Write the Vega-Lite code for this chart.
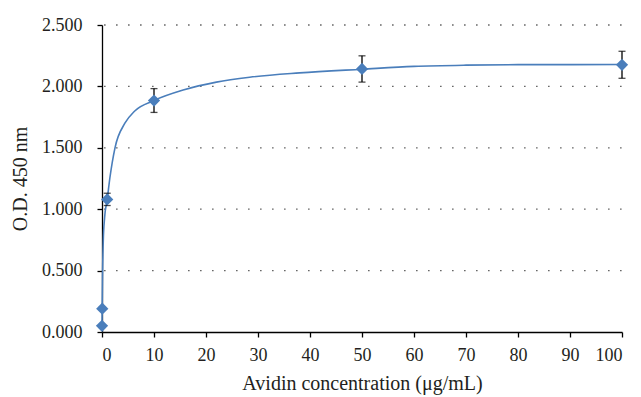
{
  "$schema": "https://vega.github.io/schema/vega-lite/v6.json",
  "autosize": "none",
  "width": 520,
  "height": 307,
  "padding": {"left": 102, "top": 25, "right": 19, "bottom": 65},
  "background": "white",
  "config": {
    "view": {"stroke": null},
    "font": "Liberation Serif",
    "axis": {
      "labelFont": "Liberation Serif",
      "titleFont": "Liberation Serif",
      "labelFontSize": 18,
      "titleFontSize": 20,
      "titleFontWeight": "normal",
      "labelColor": "#231f20",
      "titleColor": "#231f20",
      "domainColor": "#000000",
      "domainWidth": 1.3,
      "tickColor": "#000000",
      "tickWidth": 1.3,
      "tickSize": 5
    }
  },
  "datasets": {
    "points": [
      {"conc": 0, "od": 0.05, "err": 0.01},
      {"conc": 0.05, "od": 0.19, "err": 0.01},
      {"conc": 1, "od": 1.08, "err": 0.05},
      {"conc": 10, "od": 1.885, "err": 0.097},
      {"conc": 50, "od": 2.142, "err": 0.107},
      {"conc": 100, "od": 2.176, "err": 0.11}
    ],
    "curve": [
      {"conc": 0, "od": 0.05},
      {"conc": 0.1, "od": 0.45},
      {"conc": 0.25, "od": 0.75},
      {"conc": 0.5, "od": 0.93},
      {"conc": 1, "od": 1.08},
      {"conc": 1.5, "od": 1.25},
      {"conc": 2.5, "od": 1.5},
      {"conc": 4.4, "od": 1.7},
      {"conc": 6.3, "od": 1.8},
      {"conc": 10, "od": 1.885},
      {"conc": 15.6, "od": 1.97},
      {"conc": 22, "od": 2.035},
      {"conc": 28.4, "od": 2.075},
      {"conc": 38, "od": 2.11},
      {"conc": 50, "od": 2.14},
      {"conc": 60, "od": 2.163},
      {"conc": 70, "od": 2.173},
      {"conc": 80, "od": 2.177},
      {"conc": 100, "od": 2.178}
    ]
  },
  "layer": [
    {
      "data": {"values": [{"g": 0.5}, {"g": 1.0}, {"g": 1.5}, {"g": 2.0}, {"g": 2.5}]},
      "mark": {"type": "rule", "color": "#444444", "strokeWidth": 1.3, "strokeDash": [1.3, 10.7], "strokeDashOffset": -0.5},
      "encoding": {
        "y": {"field": "g", "type": "quantitative", "scale": {"domain": [0, 2.5]}}
      }
    },
    {
      "data": {"name": "curve"},
      "mark": {"type": "line", "color": "#4a7ebb", "strokeWidth": 1.6, "interpolate": "monotone"},
      "encoding": {
        "x": {"field": "conc", "type": "quantitative"},
        "y": {"field": "od", "type": "quantitative"}
      }
    },
    {
      "data": {"name": "points"},
      "transform": [
        {"calculate": "datum.od - datum.err", "as": "lo"},
        {"calculate": "datum.od + datum.err", "as": "hi"}
      ],
      "layer": [
        {
          "mark": {"type": "rule", "color": "#000000", "strokeWidth": 1.3},
          "encoding": {
            "x": {"field": "conc", "type": "quantitative"},
            "y": {"field": "lo", "type": "quantitative"},
            "y2": {"field": "hi"}
          }
        },
        {
          "mark": {"type": "tick", "orient": "horizontal", "color": "#000000", "size": 7, "thickness": 1.3},
          "encoding": {
            "x": {"field": "conc", "type": "quantitative"},
            "y": {"field": "lo", "type": "quantitative"}
          }
        },
        {
          "mark": {"type": "tick", "orient": "horizontal", "color": "#000000", "size": 7, "thickness": 1.3},
          "encoding": {
            "x": {"field": "conc", "type": "quantitative"},
            "y": {"field": "hi", "type": "quantitative"}
          }
        },
        {
          "mark": {"type": "point", "shape": "diamond", "filled": true, "size": 150, "color": "#4a7ebb", "opacity": 1},
          "encoding": {
            "x": {
              "field": "conc", "type": "quantitative",
              "scale": {"domain": [0, 100], "nice": false},
              "axis": {"title": "Avidin concentration (μg/mL)", "values": [0, 10, 20, 30, 40, 50, 60, 70, 80, 90, 100], "grid": false, "labelPadding": 9, "titlePadding": 9}
            },
            "y": {
              "field": "od", "type": "quantitative",
              "scale": {"domain": [0, 2.5], "nice": false},
              "axis": {"title": "O.D. 450 nm", "values": [0, 0.5, 1, 1.5, 2, 2.5], "format": ".3f", "grid": false, "labelPadding": 15, "titlePadding": 11}
            }
          }
        }
      ]
    }
  ]
}
